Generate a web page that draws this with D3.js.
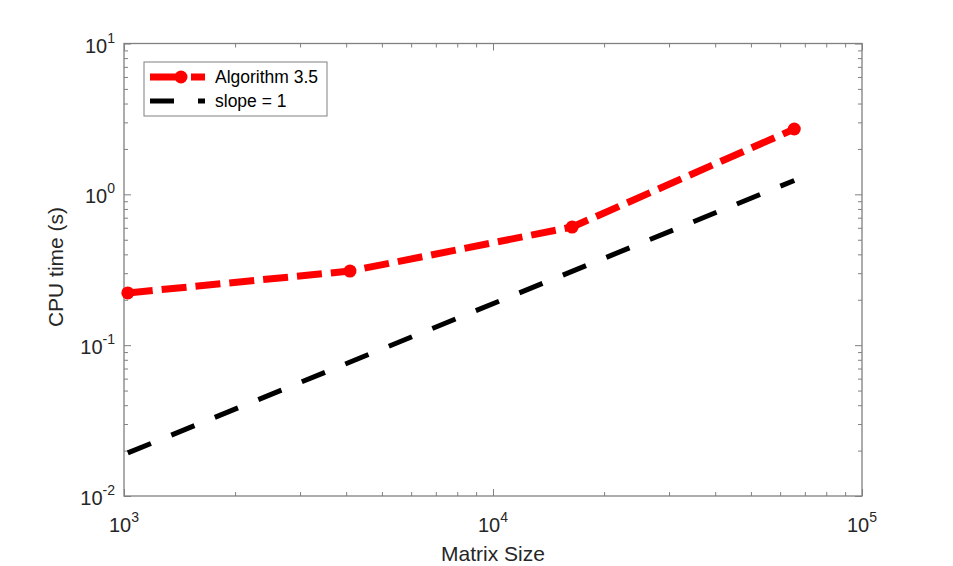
<!DOCTYPE html>
<html>
<head>
<meta charset="utf-8">
<script src="https://cdn.jsdelivr.net/npm/d3@7"></script>
<style>
  body { margin: 0; background: #fff; }
  text { font-family: "Liberation Sans", Arial, Helvetica, sans-serif; fill: #262626; }
</style>
</head>
<body>
<div id="chart-area"></div>
<script>
// data
let sizes = [1024, 4096, 16384, 65536];
let cpuTime = [0.222, 0.31, 0.607, 2.71];
let slopeX = [1024, 65536];
let slopeY = [0.0193, 1.235];

let xMajor = [1e3, 1e4, 1e5];
let xExp = ["3", "4", "5"];
let yMajor = [1e-2, 1e-1, 1e0, 1e1];
let yExp = ["-2", "-1", "0", "1"];

let seriesNames = ["Algorithm 3.5", "slope = 1"];

let margin = {top: 43.5, right: 91, bottom: 70, left: 124};
let width = 953 - margin.left - margin.right;
let height = 566 - margin.top - margin.bottom;

let svg = d3.select("#chart-area").append("svg")
  .attr("width", 953)
  .attr("height", 566);

let g = svg.append("g")
  .attr("transform", "translate(" + margin.left + "," + margin.top + ")");

let x = d3.scaleLog().domain([1e3, 1e5]).range([0, width]);
let y = d3.scaleLog().domain([1e-2, 1e1]).range([height, 0]);

// minor ticks for a log decade range
function minorTicks(lo, hi) {
  let out = [];
  for (let e = lo; e < hi; e++) {
    for (let m = 2; m <= 9; m++) out.push(m * Math.pow(10, e));
  }
  return out;
}

let axisColor = "#808080";

function drawAxis(gen, values, size, tr) {
  let a = g.append("g")
    .attr("transform", tr)
    .call(gen.tickValues(values).tickSize(size).tickFormat(""));
  a.select(".domain").remove();
  a.selectAll("line").attr("stroke", axisColor).attr("stroke-width", 1);
}

// inward ticks on all four sides
drawAxis(d3.axisBottom(x), xMajor, -7, "translate(0," + height + ")");
drawAxis(d3.axisBottom(x), minorTicks(3, 5), -4, "translate(0," + height + ")");
drawAxis(d3.axisTop(x), xMajor, -7, "translate(0,0)");
drawAxis(d3.axisTop(x), minorTicks(3, 5), -4, "translate(0,0)");
drawAxis(d3.axisLeft(y), yMajor, -7, "translate(0,0)");
drawAxis(d3.axisLeft(y), minorTicks(-2, 1), -4, "translate(0,0)");
drawAxis(d3.axisRight(y), yMajor, -7, "translate(" + width + ",0)");
drawAxis(d3.axisRight(y), minorTicks(-2, 1), -4, "translate(" + width + ",0)");

g.append("rect")
  .attr("width", width)
  .attr("height", height)
  .attr("fill", "none")
  .attr("stroke", axisColor)
  .attr("stroke-width", 1.3);

// tick labels with superscript
xMajor.forEach((v, i) => {
  let t = g.append("text")
    .attr("x", x(v))
    .attr("y", height + 36)
    .attr("text-anchor", "middle")
    .style("font-size", "20px");
  t.append("tspan").text("10");
  t.append("tspan").attr("dy", -10).style("font-size", "14px").text(xExp[i]);
});

yMajor.forEach((v, i) => {
  let t = g.append("text")
    .attr("x", -9)
    .attr("y", y(v) + 9)
    .attr("text-anchor", "end")
    .style("font-size", "20px");
  t.append("tspan").text("10");
  t.append("tspan").attr("dy", -10).style("font-size", "14px").text(yExp[i]);
});

// axis labels
svg.append("text")
  .attr("x", margin.left + x(1e4))
  .attr("y", 561)
  .attr("text-anchor", "middle")
  .style("font-size", "21px")
  .text("Matrix Size");

svg.append("text")
  .attr("transform", "translate(63," + 267 + ") rotate(-90)")
  .attr("text-anchor", "middle")
  .style("font-size", "21px")
  .text("CPU time (s)");

let line = d3.line()
  .x(d => x(d[0]))
  .y(d => y(d[1]));

// slope = 1 reference line
g.append("path")
  .datum(slopeX.map((v, i) => [v, slopeY[i]]))
  .attr("d", line)
  .attr("fill", "none")
  .attr("stroke", "#000")
  .attr("stroke-width", 5)
  .attr("stroke-dasharray", "25,22");

// algorithm line
g.append("path")
  .datum(sizes.map((v, i) => [v, cpuTime[i]]))
  .attr("d", line)
  .attr("fill", "none")
  .attr("stroke", "#ff0000")
  .attr("stroke-width", 7)
  .attr("stroke-dasharray", "25,9");

g.selectAll(".dot")
  .data(sizes)
  .enter()
  .append("circle")
  .attr("class", "dot")
  .attr("cx", d => x(d))
  .attr("cy", (d, i) => y(cpuTime[i]))
  .attr("r", 6.5)
  .attr("fill", "#ff0000");

// legend
let leg = svg.append("g").attr("transform", "translate(144,62)");
leg.append("rect")
  .attr("width", 183)
  .attr("height", 54)
  .attr("fill", "#fff")
  .attr("stroke", "#808080")
  .attr("stroke-width", 1);

leg.append("line")
  .attr("x1", 6).attr("x2", 61).attr("y1", 15).attr("y2", 15)
  .attr("stroke", "#ff0000").attr("stroke-width", 7)
  .attr("stroke-dasharray", "34,7");
leg.append("circle")
  .attr("cx", 37).attr("cy", 15).attr("r", 6.5).attr("fill", "#ff0000");

leg.append("line")
  .attr("x1", 6).attr("x2", 61).attr("y1", 39).attr("y2", 39)
  .attr("stroke", "#000").attr("stroke-width", 5)
  .attr("stroke-dasharray", "24,24");

leg.selectAll(".leg-label")
  .data(seriesNames)
  .enter()
  .append("text")
  .attr("class", "leg-label")
  .attr("x", 71)
  .attr("y", (d, i) => 21 + i * 24)
  .style("font-size", "17.5px")
  .style("fill", "#000")
  .text(d => d);
</script>
</body>
</html>
